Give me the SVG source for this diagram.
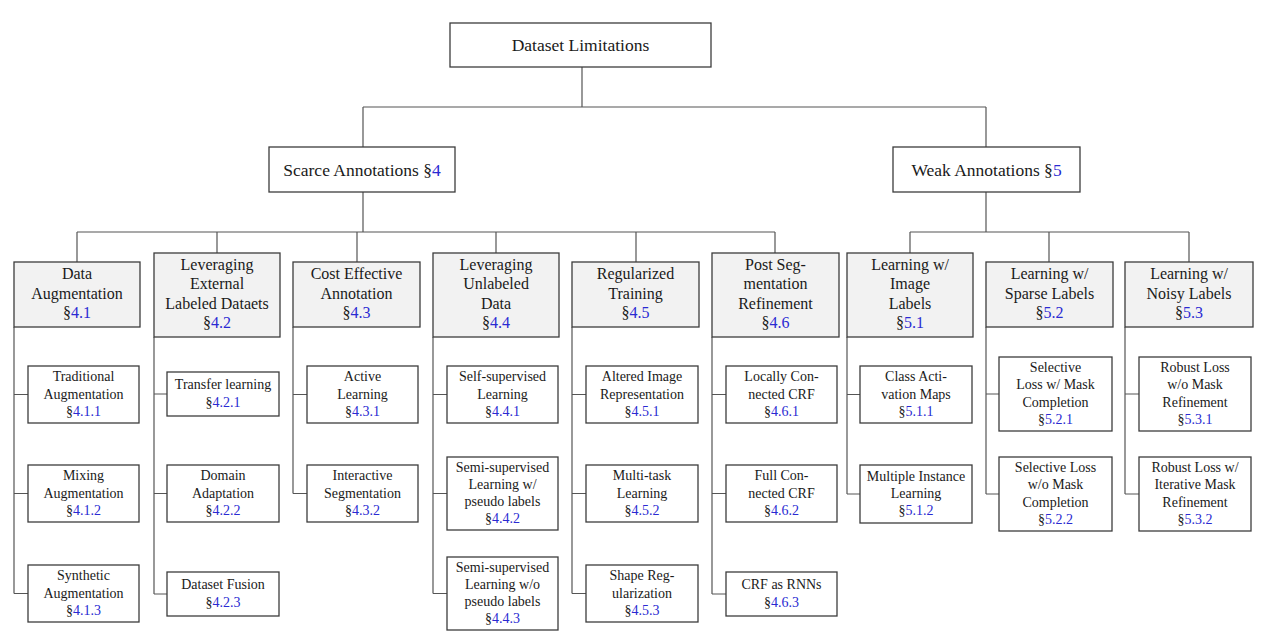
<svg xmlns="http://www.w3.org/2000/svg" width="1266" height="641" viewBox="0 0 1266 641">
<style>
  .bg { fill: #ffffff; }
  .box { fill: #ffffff; stroke: #3c3c3c; stroke-width: 1.3; }
  .hdr { fill: #f2f2f2; stroke: #3c3c3c; stroke-width: 1.3; }
  .conn path { fill: none; stroke: #555555; stroke-width: 1.2; }
  text { font-family: "Liberation Serif", "Times New Roman", serif; fill: #1a1a1a; text-anchor: middle; }
  .t0 { font-size: 17.5px; }
  .t1 { font-size: 16px; }
  .t2 { font-size: 14px; }
  .ref { fill: #2a2ad2; }
</style>
<rect class="bg" x="0" y="0" width="1266" height="641"/>

<g id="connectors" class="conn">
  <path d="M582,67 V107 M363,107 H986 M363,107 V147 M986,107 V147"/>
  <path d="M363,192 V232 M77,232 H775 M77,232 V262 M217,232 V253 M357,232 V262 M496,232 V253 M636,232 V262 M775,232 V253"/>
  <path d="M986,192 V232 M910,232 H1189 M910,232 V253 M1049,232 V262 M1189,232 V262"/>
  <path d="M14,327 V593.5 M14,394.5 H28 M14,493.5 H28 M14,593.5 H28"/>
  <path d="M154,337 V594 M154,394 H167 M154,493.5 H167 M154,594 H167"/>
  <path d="M293,327 V493.5 M293,394.5 H307 M293,493.5 H307"/>
  <path d="M433,337 V593.5 M433,394.5 H447 M433,493.5 H447 M433,593.5 H447"/>
  <path d="M572,327 V593.5 M572,394.5 H586 M572,493.5 H586 M572,593.5 H586"/>
  <path d="M712,337 V594 M712,394.5 H726 M712,493.5 H726 M712,594 H726"/>
  <path d="M847,337 V494 M847,394.5 H860 M847,494 H860"/>
  <path d="M986,327 V494 M986,394 H999 M986,494 H999"/>
  <path d="M1125,327 V494 M1125,394 H1139 M1125,494 H1139"/>
</g>

<g id="n-root">
  <rect class="box" x="450" y="23" width="261" height="44"/>
  <text class="t0" x="580.5" y="51">Dataset Limitations</text>
</g>
<g id="n-scarce">
  <rect class="box" x="269" y="147" width="186" height="45"/>
  <text class="t0" x="362" y="175.5">Scarce Annotations §<tspan class="ref">4</tspan></text>
</g>
<g id="n-weak">
  <rect class="box" x="893" y="147" width="187" height="45"/>
  <text class="t0" x="986.5" y="175.5">Weak Annotations §<tspan class="ref">5</tspan></text>
</g>

<!-- Column 1 -->
<g id="n-4-1">
  <rect class="hdr" x="14" y="262" width="126" height="65"/>
  <text class="t1"><tspan x="77" y="279.1">Data</tspan><tspan x="77" dy="19.4">Augmentation</tspan><tspan x="77" dy="19.4">§<tspan class="ref">4.1</tspan></tspan></text>
</g>
<g id="n-4-1-1">
  <rect class="box" x="28" y="366" width="111" height="57"/>
  <text class="t2"><tspan x="83.5" y="381.3">Traditional</tspan><tspan x="83.5" dy="17.2">Augmentation</tspan><tspan x="83.5" dy="17.2">§<tspan class="ref">4.1.1</tspan></tspan></text>
</g>
<g id="n-4-1-2">
  <rect class="box" x="28" y="465" width="111" height="57"/>
  <text class="t2"><tspan x="83.5" y="480.3">Mixing</tspan><tspan x="83.5" dy="17.2">Augmentation</tspan><tspan x="83.5" dy="17.2">§<tspan class="ref">4.1.2</tspan></tspan></text>
</g>
<g id="n-4-1-3">
  <rect class="box" x="28" y="565" width="111" height="57"/>
  <text class="t2"><tspan x="83.5" y="580.3">Synthetic</tspan><tspan x="83.5" dy="17.2">Augmentation</tspan><tspan x="83.5" dy="17.2">§<tspan class="ref">4.1.3</tspan></tspan></text>
</g>

<!-- Column 2 -->
<g id="n-4-2">
  <rect class="hdr" x="154" y="253" width="126" height="84"/>
  <text class="t1"><tspan x="217" y="269.9">Leveraging</tspan><tspan x="217" dy="19.4">External</tspan><tspan x="217" dy="19.4">Labeled Dataets</tspan><tspan x="217" dy="19.4">§<tspan class="ref">4.2</tspan></tspan></text>
</g>
<g id="n-4-2-1">
  <rect class="box" x="167" y="372" width="112" height="44"/>
  <text class="t2"><tspan x="223" y="389.4">Transfer learning</tspan><tspan x="223" dy="17.2">§<tspan class="ref">4.2.1</tspan></tspan></text>
</g>
<g id="n-4-2-2">
  <rect class="box" x="167" y="465" width="112" height="57"/>
  <text class="t2"><tspan x="223" y="480.3">Domain</tspan><tspan x="223" dy="17.2">Adaptation</tspan><tspan x="223" dy="17.2">§<tspan class="ref">4.2.2</tspan></tspan></text>
</g>
<g id="n-4-2-3">
  <rect class="box" x="167" y="572" width="112" height="44"/>
  <text class="t2"><tspan x="223" y="589.4">Dataset Fusion</tspan><tspan x="223" dy="17.2">§<tspan class="ref">4.2.3</tspan></tspan></text>
</g>

<!-- Column 3 -->
<g id="n-4-3">
  <rect class="hdr" x="293" y="262" width="127" height="65"/>
  <text class="t1"><tspan x="356.5" y="279.1">Cost Effective</tspan><tspan x="356.5" dy="19.4">Annotation</tspan><tspan x="356.5" dy="19.4">§<tspan class="ref">4.3</tspan></tspan></text>
</g>
<g id="n-4-3-1">
  <rect class="box" x="307" y="366" width="111" height="57"/>
  <text class="t2"><tspan x="362.5" y="381.3">Active</tspan><tspan x="362.5" dy="17.2">Learning</tspan><tspan x="362.5" dy="17.2">§<tspan class="ref">4.3.1</tspan></tspan></text>
</g>
<g id="n-4-3-2">
  <rect class="box" x="307" y="465" width="111" height="57"/>
  <text class="t2"><tspan x="362.5" y="480.3">Interactive</tspan><tspan x="362.5" dy="17.2">Segmentation</tspan><tspan x="362.5" dy="17.2">§<tspan class="ref">4.3.2</tspan></tspan></text>
</g>

<!-- Column 4 -->
<g id="n-4-4">
  <rect class="hdr" x="433" y="253" width="126" height="84"/>
  <text class="t1"><tspan x="496" y="269.9">Leveraging</tspan><tspan x="496" dy="19.4">Unlabeled</tspan><tspan x="496" dy="19.4">Data</tspan><tspan x="496" dy="19.4">§<tspan class="ref">4.4</tspan></tspan></text>
</g>
<g id="n-4-4-1">
  <rect class="box" x="447" y="366" width="111" height="57"/>
  <text class="t2"><tspan x="502.5" y="381.3">Self-supervised</tspan><tspan x="502.5" dy="17.2">Learning</tspan><tspan x="502.5" dy="17.2">§<tspan class="ref">4.4.1</tspan></tspan></text>
</g>
<g id="n-4-4-2">
  <rect class="box" x="447" y="457" width="111" height="73"/>
  <text class="t2"><tspan x="502.5" y="471.7">Semi-supervised</tspan><tspan x="502.5" dy="17.2">Learning w/</tspan><tspan x="502.5" dy="17.2">pseudo labels</tspan><tspan x="502.5" dy="17.2">§<tspan class="ref">4.4.2</tspan></tspan></text>
</g>
<g id="n-4-4-3">
  <rect class="box" x="447" y="557" width="111" height="73"/>
  <text class="t2"><tspan x="502.5" y="571.7">Semi-supervised</tspan><tspan x="502.5" dy="17.2">Learning w/o</tspan><tspan x="502.5" dy="17.2">pseudo labels</tspan><tspan x="502.5" dy="17.2">§<tspan class="ref">4.4.3</tspan></tspan></text>
</g>

<!-- Column 5 -->
<g id="n-4-5">
  <rect class="hdr" x="572" y="262" width="127" height="65"/>
  <text class="t1"><tspan x="635.5" y="279.1">Regularized</tspan><tspan x="635.5" dy="19.4">Training</tspan><tspan x="635.5" dy="19.4">§<tspan class="ref">4.5</tspan></tspan></text>
</g>
<g id="n-4-5-1">
  <rect class="box" x="586" y="366" width="112" height="57"/>
  <text class="t2"><tspan x="642" y="381.3">Altered Image</tspan><tspan x="642" dy="17.2">Representation</tspan><tspan x="642" dy="17.2">§<tspan class="ref">4.5.1</tspan></tspan></text>
</g>
<g id="n-4-5-2">
  <rect class="box" x="586" y="465" width="112" height="57"/>
  <text class="t2"><tspan x="642" y="480.3">Multi-task</tspan><tspan x="642" dy="17.2">Learning</tspan><tspan x="642" dy="17.2">§<tspan class="ref">4.5.2</tspan></tspan></text>
</g>
<g id="n-4-5-3">
  <rect class="box" x="586" y="565" width="112" height="57"/>
  <text class="t2"><tspan x="642" y="580.3">Shape Reg-</tspan><tspan x="642" dy="17.2">ularization</tspan><tspan x="642" dy="17.2">§<tspan class="ref">4.5.3</tspan></tspan></text>
</g>

<!-- Column 6 -->
<g id="n-4-6">
  <rect class="hdr" x="712" y="253" width="127" height="84"/>
  <text class="t1"><tspan x="775.5" y="269.9">Post Seg-</tspan><tspan x="775.5" dy="19.4">mentation</tspan><tspan x="775.5" dy="19.4">Refinement</tspan><tspan x="775.5" dy="19.4">§<tspan class="ref">4.6</tspan></tspan></text>
</g>
<g id="n-4-6-1">
  <rect class="box" x="726" y="366" width="111" height="57"/>
  <text class="t2"><tspan x="781.5" y="381.3">Locally Con-</tspan><tspan x="781.5" dy="17.2">nected CRF</tspan><tspan x="781.5" dy="17.2">§<tspan class="ref">4.6.1</tspan></tspan></text>
</g>
<g id="n-4-6-2">
  <rect class="box" x="726" y="465" width="111" height="57"/>
  <text class="t2"><tspan x="781.5" y="480.3">Full Con-</tspan><tspan x="781.5" dy="17.2">nected CRF</tspan><tspan x="781.5" dy="17.2">§<tspan class="ref">4.6.2</tspan></tspan></text>
</g>
<g id="n-4-6-3">
  <rect class="box" x="726" y="572" width="111" height="44"/>
  <text class="t2"><tspan x="781.5" y="589.4">CRF as RNNs</tspan><tspan x="781.5" dy="17.2">§<tspan class="ref">4.6.3</tspan></tspan></text>
</g>

<!-- Column 7 -->
<g id="n-5-1">
  <rect class="hdr" x="847" y="253" width="126" height="84"/>
  <text class="t1"><tspan x="910" y="269.9">Learning w/</tspan><tspan x="910" dy="19.4">Image</tspan><tspan x="910" dy="19.4">Labels</tspan><tspan x="910" dy="19.4">§<tspan class="ref">5.1</tspan></tspan></text>
</g>
<g id="n-5-1-1">
  <rect class="box" x="860" y="366" width="112" height="57"/>
  <text class="t2"><tspan x="916" y="381.3">Class Acti-</tspan><tspan x="916" dy="17.2">vation Maps</tspan><tspan x="916" dy="17.2">§<tspan class="ref">5.1.1</tspan></tspan></text>
</g>
<g id="n-5-1-2">
  <rect class="box" x="860" y="465" width="112" height="58"/>
  <text class="t2"><tspan x="916" y="480.8">Multiple Instance</tspan><tspan x="916" dy="17.2">Learning</tspan><tspan x="916" dy="17.2">§<tspan class="ref">5.1.2</tspan></tspan></text>
</g>

<!-- Column 8 -->
<g id="n-5-2">
  <rect class="hdr" x="986" y="262" width="127" height="65"/>
  <text class="t1"><tspan x="1049.5" y="279.1">Learning w/</tspan><tspan x="1049.5" dy="19.4">Sparse Labels</tspan><tspan x="1049.5" dy="19.4">§<tspan class="ref">5.2</tspan></tspan></text>
</g>
<g id="n-5-2-1">
  <rect class="box" x="999" y="357" width="113" height="74"/>
  <text class="t2"><tspan x="1055.5" y="372.2">Selective</tspan><tspan x="1055.5" dy="17.2">Loss w/ Mask</tspan><tspan x="1055.5" dy="17.2">Completion</tspan><tspan x="1055.5" dy="17.2">§<tspan class="ref">5.2.1</tspan></tspan></text>
</g>
<g id="n-5-2-2">
  <rect class="box" x="999" y="457" width="113" height="74"/>
  <text class="t2"><tspan x="1055.5" y="472.2">Selective Loss</tspan><tspan x="1055.5" dy="17.2">w/o Mask</tspan><tspan x="1055.5" dy="17.2">Completion</tspan><tspan x="1055.5" dy="17.2">§<tspan class="ref">5.2.2</tspan></tspan></text>
</g>

<!-- Column 9 -->
<g id="n-5-3">
  <rect class="hdr" x="1125" y="262" width="128" height="65"/>
  <text class="t1"><tspan x="1189" y="279.1">Learning w/</tspan><tspan x="1189" dy="19.4">Noisy Labels</tspan><tspan x="1189" dy="19.4">§<tspan class="ref">5.3</tspan></tspan></text>
</g>
<g id="n-5-3-1">
  <rect class="box" x="1139" y="357" width="112" height="74"/>
  <text class="t2"><tspan x="1195" y="372.2">Robust Loss</tspan><tspan x="1195" dy="17.2">w/o Mask</tspan><tspan x="1195" dy="17.2">Refinement</tspan><tspan x="1195" dy="17.2">§<tspan class="ref">5.3.1</tspan></tspan></text>
</g>
<g id="n-5-3-2">
  <rect class="box" x="1139" y="457" width="112" height="74"/>
  <text class="t2"><tspan x="1195" y="472.2">Robust Loss w/</tspan><tspan x="1195" dy="17.2">Iterative Mask</tspan><tspan x="1195" dy="17.2">Refinement</tspan><tspan x="1195" dy="17.2">§<tspan class="ref">5.3.2</tspan></tspan></text>
</g>
</svg>
